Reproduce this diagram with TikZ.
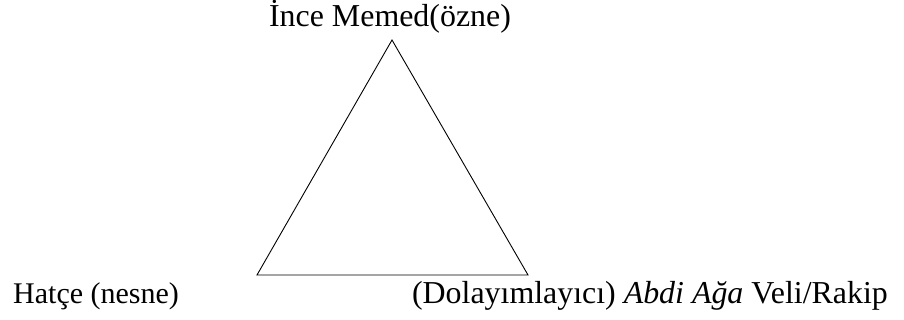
\documentclass[tikz,border=0pt]{standalone}
\usepackage{fontspec}
\setmainfont{Liberation Serif}
\begin{document}
\begin{tikzpicture}[x=1pt,y=-1pt,
  lbl/.style={font=\fontsize{30}{36}\selectfont, inner sep=0pt},
  lblw/.style={font=\fontsize{31.9}{38}\selectfont, inner sep=0pt},
  tri/.style={draw=black, line width=0.9pt, line join=miter}]
\useasboundingbox (0,0) rectangle (904,320);
\coordinate (top) at (392,40);
\coordinate (bl) at (257,275);
\coordinate (br) at (528,275);
\draw[tri] (top) -- (bl) -- (br) -- cycle;
\node[lblw, anchor=base] (subj) at (390,27) {İnce Memed(özne)};
\node[lbl, anchor=base west] (obj) at (13,303) {Hatçe (nesne)};
\node[lblw, anchor=base east] (med) at (888,303) {(Dolayımlayıcı) \textit{Abdi Ağa} Veli/Rakip};
\end{tikzpicture}
\end{document}
